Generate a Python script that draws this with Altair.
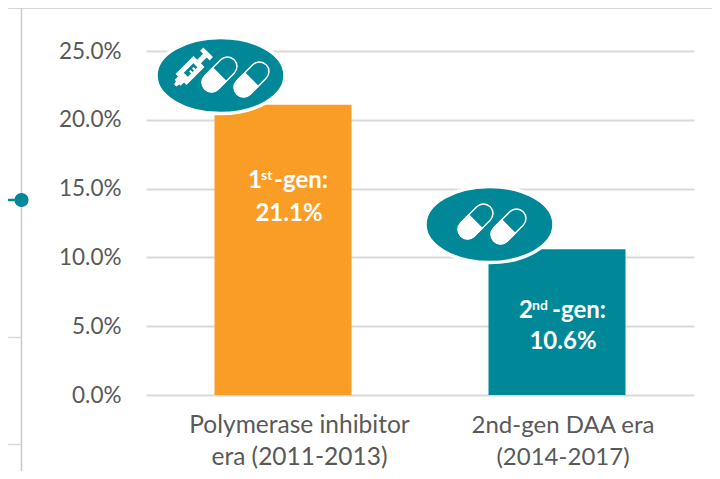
import altair as alt
import pandas as pd

eras = ["Polymerase inhibitor|era (2011-2013)", "2nd-gen DAA era|(2014-2017)"]
values = [21.1, 10.6]
colors = ["#F99D27", "#008899"]
pct_labels = ["21.1%", "10.6%"]
gen_num = ["1", "2"]
gen_sup = ["st", "nd"]
ticks = [0, 5, 10, 15, 20, 25]

W, H, LEFT, TOP = 548, 344, 138, 43
TEAL = "#008899"
GREY = "#C9C9C9"
FONT = "Lato"

df = pd.DataFrame({"era": eras, "v": values, "c": colors, "pct": pct_labels,
                   "n": gen_num, "s": gen_sup})

x = alt.X("era:N", sort=eras, scale=alt.Scale(paddingInner=0.5, paddingOuter=0.25),
          axis=alt.Axis(title=None, domain=False, ticks=False, labels=False))
y = alt.Y("v:Q", scale=alt.Scale(domain=[0, 25]),
          axis=alt.Axis(title=None, values=ticks, domain=False, ticks=False,
                        format=".1f", labelExpr="format(datum.value,'.1f')+'%'",
                        labelFontSize=22.5, labelColor="#595959", labelFont=FONT,
                        labelPadding=25, gridColor="#D9D9D9", gridWidth=2))

bars = alt.Chart(df).mark_bar(size=137).encode(
    x=x, y=y, color=alt.Color("c:N", scale=None))


def px(xp, yp):
    """Page pixel to plot-area pixel."""
    return alt.value(xp - 8 - LEFT), alt.value(yp - 8 - TOP)


def rule(x1, y1, x2, y2, color, width):
    a, b = px(x1, y1)
    a2, b2 = px(x2, y2)
    return alt.Chart(df.iloc[:1]).mark_rule(color=color, strokeWidth=width).encode(
        x=a, y=b, x2=a2, y2=b2)


def shape(path, xp, yp, scale, **kw):
    a, b = px(xp, yp)
    return alt.Chart(df.iloc[:1]).mark_point(
        shape=path, size=(2 * scale) ** 2, **kw).encode(x=a, y=b)


ELLIPSE = "M-1,0 A1,0.59 0 1,1 1,0 A1,0.59 0 1,1 -1,0 Z"
CAP_HALF = "M0,-0.38 L-0.45,-0.38 A0.38,0.38 0 0,0 -0.45,0.38 L0,0.38 Z"
CAP_FULL = ("M-0.45,-0.38 L0.45,-0.38 A0.38,0.38 0 0,1 0.45,0.38 "
            "L-0.45,0.38 A0.38,0.38 0 0,1 -0.45,-0.38 Z")
PEN_BODY = ("M-1,-0.06 L-0.86,-0.09 L-0.86,-0.16 L-0.68,-0.16 L-0.68,-0.3 L0.3,-0.3 "
            "L0.3,-0.1 L0.62,-0.1 L0.62,-0.26 L0.8,-0.26 L0.8,0.26 L0.62,0.26 "
            "L0.62,0.1 L0.3,0.1 L0.3,0.3 L-0.68,0.3 L-0.68,0.16 L-0.86,0.16 "
            "L-0.86,0.09 L-1,0.06 Z")
PEN_WINDOW = ("M-0.42,-0.11 L0.1,-0.11 L0.1,0.11 L0.0,0.11 L0.0,0.0 L-0.08,0.0 "
              "L-0.08,0.11 L-0.16,0.11 L-0.16,0.0 L-0.24,0.0 L-0.24,0.11 L-0.42,0.11 Z")


def pill(xp, yp):
    s = 25
    return [
        shape(CAP_FULL, xp, yp, s, angle=315, filled=False, stroke="white",
              strokeWidth=1.5, opacity=1),
        shape(CAP_HALF, xp, yp, s, angle=315, filled=True, fill="white",
              stroke="white", strokeWidth=1, opacity=1),
    ]


def label(i, xp, yp, text, size, align="left"):
    a, b = px(xp, yp)
    return alt.Chart(df.iloc[[i]]).mark_text(
        color="white", fontWeight="bold", font=FONT, fontSize=size, align=align,
        baseline="alphabetic").encode(x=a, y=b, text=text)


def fixed(xp, yp, txt, size):
    a, b = px(xp, yp)
    return alt.Chart(df.iloc[:1]).mark_text(
        color="white", fontWeight="bold", font=FONT, fontSize=size, align="left",
        baseline="alphabetic", text=txt).encode(x=a, y=b)


def era_label(i, xp, yp, size):
    a, b = px(xp, yp)
    return alt.Chart(df.iloc[[i]]).mark_text(
        color="#595959", font=FONT, fontSize=size, align="center", baseline="alphabetic",
        lineBreak="|", lineHeight=32).encode(x=a, y=b, text="era:N")


decor = [
    rule(8, 8, 712, 8, GREY, 1.5),
    rule(21.5, 8, 21.5, 471, GREY, 1.5),
    rule(8, 337.5, 21.5, 337.5, "#D9D9D9", 1.5),
    rule(8, 444.5, 21.5, 444.5, "#D9D9D9", 1.5),
    rule(8, 200, 21, 200, TEAL, 2.5),
]
a, b = px(21.5, 200)
decor.append(alt.Chart(df.iloc[:1]).mark_point(
    filled=True, fill=TEAL, size=201, opacity=1, shape="circle").encode(x=a, y=b))

icons = [
    shape(ELLIPSE, 220.5, 75.5, 64.5, filled=True, fill=TEAL, stroke="white",
          strokeWidth=3.5, opacity=1),
    shape(PEN_BODY, 193.5, 67, 26, angle=315, filled=True, fill="white", opacity=1),
    shape(PEN_WINDOW, 193.5, 67, 26, angle=315, filled=True, fill=TEAL, opacity=1),
    *pill(219.5, 74.5),
    *pill(251.5, 79.5),
    shape(ELLIPSE, 489.5, 224.5, 64.5, filled=True, fill=TEAL, stroke="white",
          strokeWidth=3.5, opacity=1),
    *pill(475.5, 221.5),
    *pill(508.5, 226.5),
]

texts = [
    label(0, 248, 188, "n:N", 24),
    label(0, 261, 180, "s:N", 14),
    fixed(274, 188, "-gen:", 24),
    label(0, 289, 220.5, "pct:N", 24, "center"),
    label(1, 519, 318, "n:N", 24),
    label(1, 532, 310, "s:N", 14),
    fixed(552, 318, "-gen:", 24),
    label(1, 563, 349, "pct:N", 24, "center"),
    era_label(0, 299.5, 433, 24.5),
    era_label(1, 563, 433, 24),
]

chart = alt.layer(bars, *decor, *icons, *texts).resolve_scale(color="independent").properties(
    width=W, height=H,
    padding={"left": LEFT, "top": TOP, "right": 704 - LEFT - W, "bottom": 463 - TOP - H},
    autosize=alt.AutoSizeParams(type="none"),
).configure_view(stroke=None).configure_axisX(grid=False)

chart.save("out.html", embed_options={"renderer": "svg", "actions": False})
